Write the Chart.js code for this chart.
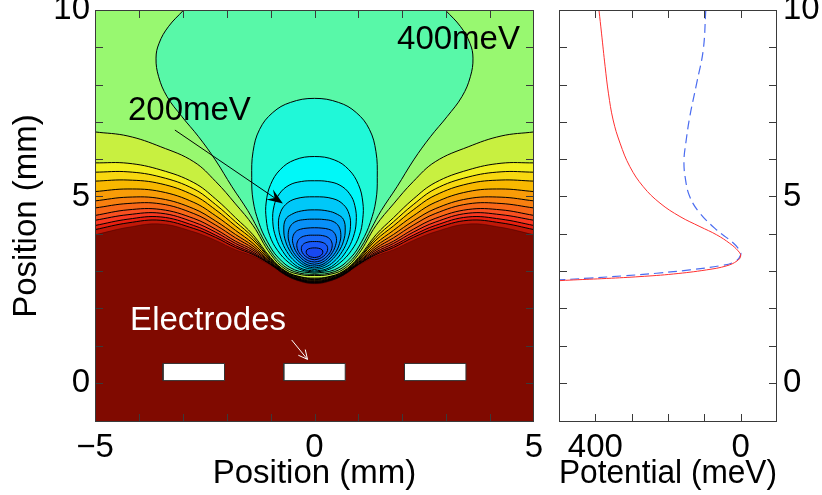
<!DOCTYPE html>
<html>
<head>
<meta charset="utf-8">
<script src="https://cdn.jsdelivr.net/npm/chart.js@4.4.1/dist/chart.umd.min.js"></script>
<style>
    body { margin: 0; background: #fff; }
    #mapChart { position: absolute; left: 0; top: 0; }
    #lineChart { position: absolute; left: 540px; top: 0; }
</style>
</head>
<body>
<canvas id="mapChart" width="560" height="495"></canvas>
<canvas id="lineChart" width="282" height="495"></canvas>
<script>
/* ============================================================
   Trap potential: contour map (left) + cut through x = 0 (right)
   ============================================================ */

var FONT = '"Liberation Sans", Arial, Helvetica, sans-serif';

/* contour lines, left half only (x <= 0); the map is mirror symmetric about x = 0 */
var outerX = [-5, -4.25, -3.5, -2.75, -2.25, -1.8, -1.4, -1.0, -0.65, -0.3, 0];

/* edge of the saturated (dark red) zone */
var saturationY = [3.97, 4.17, 4.26, 4.05, 3.82, 3.57, 3.40, 3.15, 2.88, 2.71, 2.66];

/* open contour lines above 400 meV, highest level first */
var outerY = [
    [4.11, 4.29, 4.36, 4.14, 3.90, 3.63, 3.44, 3.17, 2.89, 2.72, 2.67],
    [4.22, 4.39, 4.45, 4.22, 3.96, 3.68, 3.47, 3.18, 2.89, 2.73, 2.68],
    [4.36, 4.51, 4.55, 4.31, 4.04, 3.74, 3.51, 3.19, 2.90, 2.74, 2.69],
    [4.49, 4.64, 4.65, 4.41, 4.12, 3.80, 3.56, 3.21, 2.91, 2.75, 2.70],
    [4.69, 4.81, 4.80, 4.54, 4.23, 3.89, 3.61, 3.23, 2.92, 2.76, 2.72],
    [4.88, 4.98, 4.94, 4.67, 4.34, 3.98, 3.67, 3.25, 2.93, 2.77, 2.73],
    [5.13, 5.20, 5.13, 4.84, 4.48, 4.09, 3.74, 3.28, 2.95, 2.79, 2.75],
    [5.41, 5.44, 5.34, 5.03, 4.64, 4.21, 3.83, 3.31, 2.96, 2.81, 2.77],
    [5.65, 5.66, 5.52, 5.20, 4.78, 4.32, 3.90, 3.33, 2.98, 2.83, 2.79],
    [5.90, 5.89, 5.71, 5.37, 4.93, 4.43, 3.97, 3.36, 2.99, 2.84, 2.81],
    [6.73, 6.62, 6.33, 5.93, 5.40, 4.80, 4.22, 3.45, 3.04, 2.90, 2.88]
];

/* 400 meV contour: from the top edge down to the bottom of the well */
var blobX = [-2.98, -3.33, -3.54, -3.61, -3.55, -3.36, -3.02, -2.64, -2.26, -1.88, -1.52, -1.30, -1.05, -0.78, -0.45, 0];
var blobY = [10.0, 9.55, 9.11, 8.71, 8.21, 7.68, 7.14, 6.60, 5.98, 5.26, 4.62, 4.15, 3.62, 3.22, 2.98, 2.91];

/* closed contours inside the well, outermost first (bottom -> left side -> top) */
var wellX = [
    [0, -0.45, -0.82, -1.08, -1.27, -1.40, -1.43, -1.40, -1.25, -0.95, -0.55, 0],
    [0, -0.30, -0.58, -0.84, -1.02, -1.10, -1.10, -1.00, -0.78, -0.45, 0],
    [0, -0.26, -0.50, -0.72, -0.88, -0.95, -0.92, -0.80, -0.58, -0.30, 0],
    [0, -0.22, -0.44, -0.63, -0.76, -0.82, -0.79, -0.66, -0.42, 0],
    [0, -0.19, -0.38, -0.55, -0.66, -0.70, -0.66, -0.52, -0.30, 0],
    [0, -0.17, -0.33, -0.48, -0.57, -0.60, -0.55, -0.42, -0.22, 0],
    [0, -0.15, -0.29, -0.41, -0.48, -0.50, -0.44, -0.32, -0.17, 0],
    [0, -0.13, -0.25, -0.35, -0.40, -0.39, -0.32, -0.18, 0],
    [0, -0.11, -0.21, -0.28, -0.30, -0.27, -0.17, 0],
    [0, -0.09, -0.16, -0.19, -0.17, -0.09, 0]
];
var wellY = [
    [2.94, 3.03, 3.35, 3.80, 4.30, 4.90, 5.50, 6.20, 6.80, 7.25, 7.52, 7.63],
    [2.97, 3.03, 3.22, 3.55, 3.95, 4.40, 4.85, 5.32, 5.72, 5.98, 6.07],
    [3.00, 3.05, 3.22, 3.52, 3.90, 4.32, 4.75, 5.07, 5.30, 5.40, 5.42],
    [3.04, 3.09, 3.25, 3.52, 3.85, 4.20, 4.52, 4.78, 4.94, 4.99],
    [3.08, 3.13, 3.28, 3.52, 3.80, 4.10, 4.38, 4.52, 4.61, 4.64],
    [3.13, 3.17, 3.30, 3.50, 3.74, 3.98, 4.20, 4.33, 4.38, 4.39],
    [3.18, 3.22, 3.33, 3.50, 3.69, 3.87, 4.04, 4.12, 4.15, 4.16],
    [3.24, 3.27, 3.36, 3.49, 3.64, 3.78, 3.89, 3.95, 3.96],
    [3.30, 3.33, 3.40, 3.50, 3.60, 3.70, 3.77, 3.79],
    [3.36, 3.38, 3.43, 3.50, 3.57, 3.61, 3.62]
];

/* electrodes (mm) */
var electrodeCenters = [-2.75, 0, 2.75];
var electrodeHalfWidth = 0.70;
var electrodeBottom = 0.06;
var electrodeTop = 0.52;

/* right panel: potential along the axis */
var redMeV  = [390, 383, 373, 364, 351, 332, 305, 268, 222, 167, 112, 66, 30, 7, 0, 10, 38, 94, 185, 277, 369, 461, 540];
var redPos  = [10.0, 9.38, 8.48, 7.77, 7.05, 6.43, 5.80, 5.26, 4.82, 4.46, 4.19, 3.97, 3.74, 3.54, 3.40, 3.27, 3.14, 3.03, 2.92, 2.85, 2.80, 2.76, 2.72];
var blueMeV = [96, 103, 121, 140, 151, 156, 153, 140, 112, 66, 25, 4, 0, 16, 57, 140, 231, 323, 415, 540];
var bluePos = [10.0, 8.93, 8.04, 7.14, 6.43, 5.98, 5.53, 4.99, 4.55, 4.10, 3.79, 3.57, 3.43, 3.25, 3.14, 3.03, 2.94, 2.87, 2.81, 2.74];

/* tick labels */
var mapXLabels = [-5, 0, 5];
var posLabels = [0, 5, 10];
var meVLabels = [400, 0];

/* colours: band just inside each contour */
var saturatedColor = '#800a00';
var outerColors = ['#c01808', '#e82010', '#f83820', '#f85020', '#f86818', '#f88010', '#f89c08', '#f8b800', '#f8d810', '#f0f020', '#c8f040', '#98f870'];
var wellColors = ['#58f8a8', '#20f8d8', '#00f8f8', '#00e0f8', '#00c8f8', '#00a8f8', '#0890f8', '#1078f8', '#1868f8', '#1858f8', '#1848f0'];

/* annotations */
var noteText  = ['400meV', '200meV', 'Electrodes'];
var noteX     = [1.88, -4.25, -4.20];
var noteY     = [9.20, 7.29, 1.66];
var noteColor = ['#000', '#000', '#fff'];
var arrowFrom = [[-3.18, 6.78], [-0.52, 1.15]];
var arrowTo   = [[-0.72, 4.81], [-0.16, 0.63]];

/* build a full contour from its left half by mirroring about x = 0 */
function mirrored(xs, ys) {
    var pts = [];
    for (var i = 0; i < xs.length; i++) pts.push({ x: xs[i], y: ys[i] });
    for (var j = xs.length - 2; j >= 0; j--) pts.push({ x: -xs[j], y: ys[j] });
    return pts;
}

function contourSet(pts, fillColor, region, lineColor) {
    return {
        data: pts,
        showLine: true,
        tension: 0.4,
        pointRadius: 0,
        borderWidth: 1,
        borderColor: lineColor,
        backgroundColor: fillColor,
        fill: false,
        region: region
    };
}

var mapSets = [];
mapSets.push(contourSet(mirrored(outerX, saturationY), outerColors[0], 'above', 'rgba(60,0,0,0.45)'));
outerY.forEach(function (ys, i) {
    mapSets.push(contourSet(mirrored(outerX, ys), outerColors[i + 1], 'above', '#000'));
});
mapSets.push(contourSet(mirrored(blobX, blobY), wellColors[0], 'inside', '#000'));
wellX.forEach(function (xs, i) {
    mapSets.push(contourSet(mirrored(xs, wellY[i]), wellColors[i + 1], 'inside', '#000'));
});
electrodeCenters.forEach(function (c) {
    var l = c - electrodeHalfWidth, r = c + electrodeHalfWidth;
    var set = contourSet([
        { x: l, y: electrodeBottom }, { x: r, y: electrodeBottom },
        { x: r, y: electrodeTop }, { x: l, y: electrodeTop }, { x: l, y: electrodeBottom }
    ], '#ffffff', 'inside', '#333');
    set.tension = 0;
    mapSets.push(set);
});

/* paints the colour bands: each contour fills the region on its low side */
var fieldFill = {
    id: 'fieldFill',
    beforeDatasetsDraw: function (chart) {
        var ctx = chart.ctx, a = chart.chartArea;
        ctx.save();
        ctx.beginPath();
        ctx.rect(a.left, a.top, a.width, a.height);
        ctx.clip();
        ctx.fillStyle = saturatedColor;
        ctx.fillRect(a.left, a.top, a.width, a.height);
        chart.data.datasets.forEach(function (ds, i) {
            if (!ds.region) return;
            var line = chart.getDatasetMeta(i).dataset;
            line.updateControlPoints(a, 'x');
            ctx.beginPath();
            line.path(ctx);
            if (ds.region === 'above') {
                ctx.lineTo(a.right, a.top);
                ctx.lineTo(a.left, a.top);
            }
            ctx.closePath();
            ctx.fillStyle = ds.backgroundColor;
            ctx.fill();
        });
        ctx.restore();
    }
};

/* IDL style frame with inward ticks on all four sides */
var frameTicks = {
    id: 'frameTicks',
    afterDatasetsDraw: function (chart) {
        var ctx = chart.ctx, a = chart.chartArea;
        var xs = chart.scales.x, ys = chart.scales.y, len = 8;
        ctx.save();
        ctx.strokeStyle = '#3a3a3a';
        ctx.lineWidth = 1;
        ctx.beginPath();
        xs.ticks.forEach(function (t) {
            if (t.value <= Math.min(xs.min, xs.max) || t.value >= Math.max(xs.min, xs.max)) return;
            var px = Math.round(xs.getPixelForValue(t.value)) + 0.5;
            ctx.moveTo(px, a.bottom); ctx.lineTo(px, a.bottom - len);
            ctx.moveTo(px, a.top); ctx.lineTo(px, a.top + len);
        });
        ys.ticks.forEach(function (t) {
            if (t.value < 0 || t.value >= ys.max) return;
            var py = Math.round(ys.getPixelForValue(t.value)) + 0.5;
            ctx.moveTo(a.left, py); ctx.lineTo(a.left + len, py);
            ctx.moveTo(a.right, py); ctx.lineTo(a.right - len, py);
        });
        ctx.stroke();
        ctx.strokeRect(Math.round(a.left) + 0.5, Math.round(a.top) + 0.5, Math.round(a.width) - 1, Math.round(a.height) - 1);
        ctx.restore();
    }
};

function drawArrow(ctx, x0, y0, x1, y1, color, filled) {
    var ang = Math.atan2(y1 - y0, x1 - x0);
    var c = Math.cos(ang), s = Math.sin(ang);
    var L = filled ? 16 : 9, W = filled ? 6 : 4.5;
    ctx.strokeStyle = color;
    ctx.fillStyle = color;
    ctx.lineWidth = 1;
    ctx.beginPath();
    ctx.moveTo(x0, y0);
    ctx.lineTo(x1 - (filled ? 8 : 0) * c, y1 - (filled ? 8 : 0) * s);
    ctx.stroke();
    var bx = x1 - L * c, by = y1 - L * s;
    ctx.beginPath();
    ctx.moveTo(bx - W * s, by + W * c);
    ctx.lineTo(x1, y1);
    ctx.lineTo(bx + W * s, by - W * c);
    if (filled) {
        ctx.lineTo(x1 - 0.62 * L * c, y1 - 0.62 * L * s);
        ctx.closePath();
        ctx.fill();
    } else {
        ctx.stroke();
    }
}

var notes = {
    id: 'notes',
    afterDatasetsDraw: function (chart) {
        var ctx = chart.ctx, xs = chart.scales.x, ys = chart.scales.y;
        ctx.save();
        arrowFrom.forEach(function (p, i) {
            drawArrow(ctx, xs.getPixelForValue(p[0]), ys.getPixelForValue(p[1]),
                xs.getPixelForValue(arrowTo[i][0]), ys.getPixelForValue(arrowTo[i][1]),
                noteColor[i + 1], i === 0);
        });
        ctx.font = '33px ' + FONT;
        ctx.textAlign = 'left';
        ctx.textBaseline = 'middle';
        noteText.forEach(function (t, i) {
            ctx.fillStyle = noteColor[i];
            ctx.fillText(t, xs.getPixelForValue(noteX[i]), ys.getPixelForValue(noteY[i]));
        });
        ctx.restore();
    }
};

function fmt(v) {
    return v < 0 ? '\u2212' + Math.abs(v) : String(v);
}

/* keep the plot frames where the reference has them: no room reserved for edge labels */
function fixWidth(w) {
    return function (s) { s.width = w; s.paddingTop = 0; s.paddingBottom = 0; };
}
function fixHeight(h) {
    return function (s) { s.height = h; s.paddingLeft = 0; s.paddingRight = 0; };
}

var tickFont = { family: FONT, size: 33 };

Chart.defaults.animation = false;

new Chart(document.getElementById('mapChart'), {
    type: 'scatter',
    data: { datasets: mapSets },
    options: {
        responsive: false,
        events: [],
        layout: { padding: { left: 0, right: 26, top: 10, bottom: 0 } },
        plugins: { legend: { display: false }, tooltip: { enabled: false } },
        scales: {
            x: {
                type: 'linear', min: -5, max: 5,
                grid: { display: false, drawTicks: false },
                border: { display: false },
                ticks: {
                    stepSize: 1, autoSkip: false, maxRotation: 0, padding: 6, color: '#000', font: tickFont,
                    callback: function (v) { return mapXLabels.indexOf(v) >= 0 ? fmt(v) : ''; }
                },
                title: { display: true, text: 'Position (mm)', color: '#000', font: tickFont, padding: { top: 0, bottom: 1 } },
                afterFit: fixHeight(73)
            },
            y: {
                type: 'linear', min: -1.05, max: 10,
                grid: { display: false, drawTicks: false },
                border: { display: false },
                ticks: {
                    stepSize: 1, autoSkip: false, padding: 5, color: '#000', font: tickFont,
                    callback: function (v) { return posLabels.indexOf(v) >= 0 ? fmt(v) : ''; }
                },
                title: { display: true, text: 'Position (mm)', color: '#000', font: tickFont, padding: { top: 7, bottom: 0 } },
                afterFit: fixWidth(95)
            }
        }
    },
    plugins: [fieldFill, frameTicks, notes]
});

function curve(xs, ys) {
    return xs.map(function (x, i) { return { x: x, y: ys[i] }; });
}

new Chart(document.getElementById('lineChart'), {
    type: 'scatter',
    data: {
        datasets: [
            { data: curve(redMeV, redPos), showLine: true, tension: 0.4, pointRadius: 0, borderWidth: 1, borderColor: '#ff3030' },
            { data: curve(blueMeV, bluePos), showLine: true, tension: 0.4, pointRadius: 0, borderWidth: 1.2, borderColor: '#4a6cf0', borderDash: [9, 5] }
        ]
    },
    options: {
        responsive: false,
        events: [],
        layout: { padding: { left: 19, right: 0, top: 10, bottom: 0 } },
        plugins: { legend: { display: false }, tooltip: { enabled: false } },
        scales: {
            x: {
                type: 'linear', min: -100, max: 500, reverse: true,
                grid: { display: false, drawTicks: false },
                border: { display: false },
                ticks: {
                    stepSize: 100, autoSkip: false, maxRotation: 0, padding: 6, color: '#000', font: tickFont,
                    callback: function (v) { return meVLabels.indexOf(v) >= 0 ? String(v) : ''; }
                },
                title: { display: true, text: 'Potential (meV)', color: '#000', font: tickFont, padding: { top: 0, bottom: 1 } },
                afterFit: fixHeight(73)
            },
            y: {
                type: 'linear', position: 'right', min: -1.05, max: 10,
                grid: { display: false, drawTicks: false },
                border: { display: false },
                ticks: {
                    stepSize: 1, autoSkip: false, padding: 6, color: '#000', font: tickFont,
                    callback: function (v) { return posLabels.indexOf(v) >= 0 ? String(v) : ''; }
                },
                afterFit: fixWidth(45)
            }
        }
    },
    plugins: [frameTicks]
});
</script>
</body>
</html>
